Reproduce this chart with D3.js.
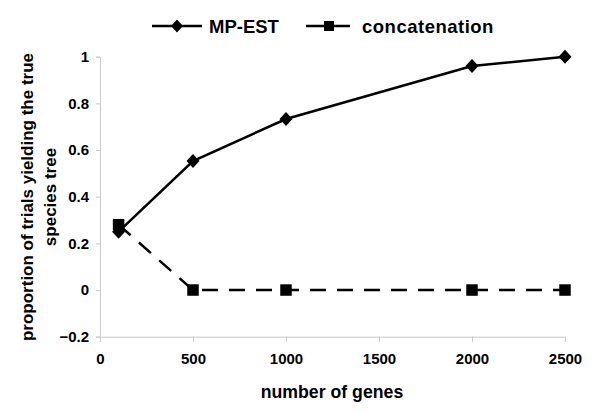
<!DOCTYPE html>
<html><head><meta charset="utf-8">
<script src="https://cdn.jsdelivr.net/npm/d3@7"></script>
<style>body{margin:0;background:#fff}svg{display:block}text{font-family:Arial,"Liberation Sans",sans-serif;font-weight:bold;fill:#000}</style>
</head><body>
<svg id="c" width="600" height="419"></svg>
<script>
const genes = [100, 500, 1000, 2000, 2500];
const mpest = [0.25, 0.553, 0.733, 0.96, 1.0];
const concat = [0.28, 0, 0, 0, 0];
const xTicks = [0, 500, 1000, 1500, 2000, 2500];
const yTicks = [-0.2, 0, 0.2, 0.4, 0.6, 0.8, 1];
const seriesNames = ["MP-EST", "concatenation"];

const svg = d3.select("#c");
const x = d3.scaleLinear().domain([0, 2500]).range([100, 565]);
const y = d3.scaleLinear().domain([-0.2, 1]).range([336.7, 56.7]);
const grey = "#c8c8c8";

// axes
const xa = svg.append("g").attr("transform", `translate(0,${y(-0.2)})`)
  .call(d3.axisBottom(x).tickValues(xTicks).tickSize(5).tickPadding(12).tickFormat(d3.format("d")));
const ya = svg.append("g").attr("transform", `translate(${x(0)},0)`)
  .call(d3.axisLeft(y).tickValues(yTicks).tickSize(4).tickPadding(7).tickFormat(d => d === 0 ? "0" : d3.format("")(d)));
[xa, ya].forEach(a => {
  a.select(".domain").attr("stroke", grey).attr("stroke-width", 1);
  a.selectAll(".tick line").attr("stroke", grey);
  a.selectAll(".tick text").attr("font-size", 15).attr("font-weight", "bold").attr("fill", "#000")
    .attr("font-family", "Arial, 'Liberation Sans', sans-serif");
});

// titles
svg.append("text").attr("x", 332).attr("y", 398).attr("text-anchor", "middle").attr("font-size", 17.7).text("number of genes");
const yt = svg.append("text").attr("transform", "translate(33,197) rotate(-90)").attr("text-anchor", "middle").attr("font-size", 17);
yt.append("tspan").attr("x", 0).attr("y", 0).text("proportion of trials yielding the true");
yt.append("tspan").attr("x", 0).attr("y", 23).text("species tree");

const line = d3.line().x(d => x(d[0])).y(d => y(d[1]));
const diamond = (w, h) => `M0,${-h}L${w},0L0,${h}L${-w},0Z`;
const square = s => `M${-s/2},${-s/2}h${s}v${s}h${-s}Z`;

const d1 = genes.map((g, i) => [g, mpest[i]]);
const d2 = genes.map((g, i) => [g, concat[i]]);

svg.append("path").datum(d2).attr("d", line).attr("fill", "none").attr("stroke", "#000")
  .attr("stroke-width", 2.5).attr("stroke-dasharray", "16,11");
svg.append("path").datum(d1).attr("d", line).attr("fill", "none").attr("stroke", "#000").attr("stroke-width", 2.5);

svg.selectAll(".sq").data(d2).enter().append("path")
  .attr("transform", d => `translate(${x(d[0])},${y(d[1])})`).attr("d", square(11.5)).attr("fill", "#000");
svg.selectAll(".dm").data(d1).enter().append("path")
  .attr("transform", d => `translate(${x(d[0])},${y(d[1])})`).attr("d", diamond(6.5, 7)).attr("fill", "#000");

// legend
const ly = 26;
svg.append("line").attr("x1", 152).attr("x2", 202).attr("y1", ly).attr("y2", ly).attr("stroke", "#000").attr("stroke-width", 2.5);
svg.append("path").attr("transform", `translate(177,${ly})`).attr("d", diamond(6, 6.5)).attr("fill", "#000");
svg.append("text").attr("x", 209).attr("y", ly + 6.5).attr("font-size", 18.5).text(seriesNames[0]);
svg.append("line").attr("x1", 306).attr("x2", 350).attr("y1", ly).attr("y2", ly).attr("stroke", "#000").attr("stroke-width", 2.5);
svg.append("path").attr("transform", `translate(329,${ly})`).attr("d", square(10)).attr("fill", "#000");
svg.append("text").attr("x", 362).attr("y", ly + 6.5).attr("font-size", 18.5).attr("letter-spacing", 0.5).text(seriesNames[1]);
</script>
</body></html>
